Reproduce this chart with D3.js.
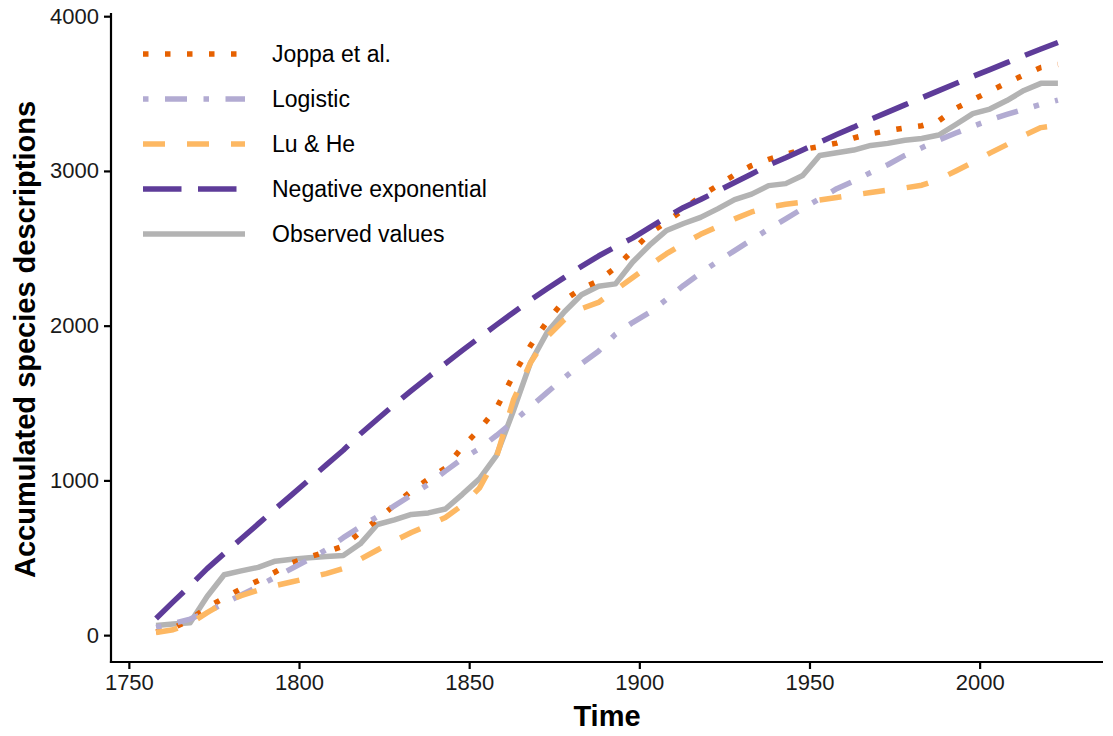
<!DOCTYPE html>
<html>
<head>
<meta charset="utf-8">
<script src="https://cdn.jsdelivr.net/npm/d3@7/dist/d3.min.js"></script>
<style>
  html, body { margin: 0; padding: 0; background: #ffffff; }
  svg { display: block; font-family: "Liberation Sans", Arial, Helvetica, sans-serif; }
</style>
</head>
<body>
<svg id="chart" width="1113" height="736"></svg>
<script>
// ---------------- DATA ----------------
const years = [1758,1763,1768,1773,1778,1783,1788,1793,1798,1803,1808,1813,1818,1823,1828,1833,1838,1843,1848,1853,
  1858,1863,1868,1873,1878,1883,1888,1893,1898,1903,1908,1913,1918,1923,1928,1933,1938,1943,1948,1953,
  1958,1963,1968,1973,1978,1983,1988,1993,1998,2003,2008,2013,2018,2023];

const observed = [62,72,80,250,390,415,438,478,490,500,508,515,590,715,745,780,790,815,910,1010,
  1160,1450,1760,1960,2090,2200,2255,2270,2410,2520,2615,2660,2700,2755,2815,2850,2905,2918,2970,3100,
  3118,3135,3165,3178,3198,3210,3232,3300,3370,3400,3455,3520,3566,3566];

const joppa = [20,45,100,180,240,300,352,408,468,505,538,575,665,745,840,932,1008,1080,1215,1330,
  1465,1680,1870,2030,2165,2240,2290,2375,2485,2595,2672,2750,2838,2905,2975,3035,3075,3107,3138,3158,
  3180,3213,3240,3260,3278,3292,3324,3405,3460,3515,3570,3620,3668,3688];

const logistic = [50,75,104,150,205,260,315,375,432,490,553,630,700,765,835,905,975,1060,1140,1205,
  1290,1380,1475,1570,1665,1755,1835,1945,2020,2085,2170,2260,2340,2415,2485,2555,2625,2690,2757,2820,
  2885,2935,2990,3040,3100,3150,3200,3245,3288,3330,3365,3398,3430,3458];

const luHe = [17,35,75,145,210,255,290,320,345,370,398,430,490,550,610,663,710,760,840,950,
  1150,1520,1760,1930,2040,2110,2150,2230,2310,2390,2465,2530,2590,2640,2690,2735,2765,2785,2798,2812,
  2828,2845,2860,2876,2890,2908,2945,3000,3055,3115,3170,3230,3280,3295];

const negExp = [108,215,320,430,527,623,719,815,910,1005,1100,1195,1300,1395,1490,1580,1668,1755,1840,1923,
  2005,2085,2165,2240,2312,2383,2450,2510,2566,2634,2702,2764,2815,2870,2925,2980,3038,3085,3135,3185,
  3235,3283,3334,3380,3427,3473,3519,3565,3611,3655,3700,3745,3788,3830];

const seriesNames = ["Joppa et al.", "Logistic", "Lu & He", "Negative exponential", "Observed values"];
const xTicks = [1750, 1800, 1850, 1900, 1950, 2000];
const yTicks = [0, 1000, 2000, 3000, 4000];
const xTitle = "Time";
const yTitle = "Accumulated species descriptions";

// ---------------- STYLE ----------------
const LW = 5.5;
const styles = {
  "Joppa et al.":         { color: "#e66101", dash: [1, 3] },
  "Logistic":             { color: "#b2abd2", dash: [1, 3, 4, 3] },
  "Lu & He":              { color: "#fdb863", dash: [4, 4] },
  "Negative exponential": { color: "#5e3c99", dash: [7, 3] },
  "Observed values":      { color: "#b3b3b3", dash: null }
};
const dashStr = d => d ? d.map(v => v * LW).join(",") : null;

const seriesData = {
  "Joppa et al.": joppa,
  "Logistic": logistic,
  "Lu & He": luHe,
  "Negative exponential": negExp,
  "Observed values": observed
};

// ---------------- LAYOUT ----------------
const svg = d3.select("#chart");
const pLeft = 111, pRight = 1103, pTop = 13, pBottom = 662;

const xMin = d3.min(years), xMax = d3.max(years);
const xPad = (xMax - xMin) * 0.05;
const x = d3.scaleLinear().domain([xMin - xPad, xMax + xPad]).range([pLeft, pRight]);

const allVals = [].concat(observed, joppa, logistic, luHe, negExp);
const yMin = d3.min(allVals), yMax = d3.max(allVals);
const yPad = (yMax - yMin) * 0.05;
const y = d3.scaleLinear().domain([yMin - yPad, yMax + yPad]).range([pBottom, pTop]);

const line = d3.line().x((d, i) => x(years[i])).y(d => y(d));

// draw order: observed first, then models
const drawOrder = ["Observed values", "Joppa et al.", "Logistic", "Lu & He", "Negative exponential"];
const gLines = svg.append("g");
drawOrder.forEach(name => {
  const s = styles[name];
  gLines.append("path")
    .datum(seriesData[name])
    .attr("d", line)
    .attr("fill", "none")
    .attr("stroke", s.color)
    .attr("stroke-width", LW)
    .attr("stroke-linecap", "butt")
    .attr("stroke-linejoin", "round")
    .attr("stroke-dasharray", dashStr(s.dash));
});

// axes
const xAxis = d3.axisBottom(x).tickValues(xTicks).tickFormat(d3.format("d")).tickSizeOuter(0).tickSize(7).tickPadding(5);
const yAxis = d3.axisLeft(y).tickValues(yTicks).tickFormat(d3.format("d")).tickSizeOuter(0).tickSize(7).tickPadding(5);

const gx = svg.append("g").attr("transform", `translate(0,${pBottom})`).call(xAxis);
const gy = svg.append("g").attr("transform", `translate(${pLeft},0)`).call(yAxis);
[gx, gy].forEach(g => {
  g.select(".domain").remove();
  g.selectAll(".tick line").attr("stroke", "#000").attr("stroke-width", 2.2);
  g.selectAll(".tick text").attr("fill", "#1a1a1a").style("font-size", "22px");
});
// axis lines
svg.append("line").attr("x1", pLeft).attr("x2", pLeft).attr("y1", pTop).attr("y2", pBottom + 1.1)
  .attr("stroke", "#000").attr("stroke-width", 2.2);
svg.append("line").attr("x1", pLeft - 1.1).attr("x2", pRight).attr("y1", pBottom).attr("y2", pBottom)
  .attr("stroke", "#000").attr("stroke-width", 2.2);

// titles
svg.append("text").attr("x", (pLeft + pRight) / 2).attr("y", 726)
  .attr("text-anchor", "middle").style("font-size", "29px").style("font-weight", "bold")
  .text(xTitle);
svg.append("text").attr("transform", `translate(35,${(pTop + pBottom) / 2 + 2}) rotate(-90)`)
  .attr("text-anchor", "middle").style("font-size", "29px").style("font-weight", "bold")
  .text(yTitle);

// legend
const legend = svg.append("g");
const lx0 = 143, lx1 = 245, ly0 = 54, lstep = 45;
seriesNames.forEach((name, i) => {
  const s = styles[name];
  const yy = ly0 + i * lstep;
  legend.append("line").attr("x1", lx0).attr("x2", lx1).attr("y1", yy).attr("y2", yy)
    .attr("stroke", s.color).attr("stroke-width", LW).attr("stroke-linecap", "butt")
    .attr("stroke-dasharray", dashStr(s.dash));
  legend.append("text").attr("x", 272).attr("y", yy).attr("dy", "0.35em")
    .style("font-size", "23px").attr("fill", "#000").text(name);
});
</script>
</body>
</html>
